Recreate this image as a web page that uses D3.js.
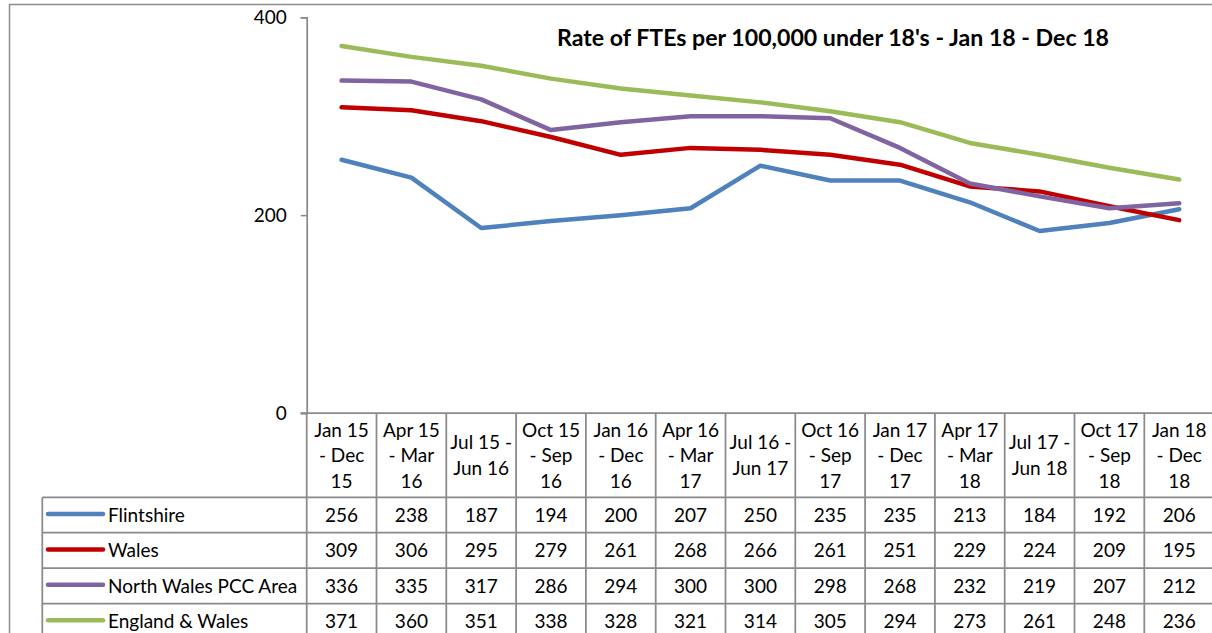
<!DOCTYPE html>
<html>
<head>
<meta charset="utf-8">
<script src="https://cdnjs.cloudflare.com/ajax/libs/d3/7.8.5/d3.min.js"></script>
<style>
  body { margin: 0; background: #fff; }
  svg { font-family: Lato, "Open Sans", sans-serif; }
</style>
</head>
<body>
<script>
// categories (line breaks as shown in the table header)
var categories = [
    "Jan 15\n- Dec\n15", "Apr 15\n- Mar\n16", "Jul 15 -\nJun 16", "Oct 15\n- Sep\n16",
    "Jan 16\n- Dec\n16", "Apr 16\n- Mar\n17", "Jul 16 -\nJun 17", "Oct 16\n- Sep\n17",
    "Jan 17\n- Dec\n17", "Apr 17\n- Mar\n18", "Jul 17 -\nJun 18", "Oct 17\n- Sep\n18",
    "Jan 18\n- Dec\n18"
];
var seriesNames = ["Flintshire", "Wales", "North Wales PCC Area", "England & Wales"];
var seriesColors = ["#4f81bd", "#c00000", "#8064a2", "#9bbb59"];
var flintshire = [256, 238, 187, 194, 200, 207, 250, 235, 235, 213, 184, 192, 206];
var wales = [309, 306, 295, 279, 261, 268, 266, 261, 251, 229, 224, 209, 195];
var northWales = [336, 335, 317, 286, 294, 300, 300, 298, 268, 232, 219, 207, 212];
var englandWales = [371, 360, 351, 338, 328, 321, 314, 305, 294, 273, 261, 248, 236];
var yTicks = [0, 200, 400];
var title = "Rate of FTEs per 100,000 under 18's - Jan 18 - Dec 18";

var seriesValues = [flintshire, wales, northWales, englandWales];

var width = 1212, height = 633;
var plotLeft = 306.7, colW = 69.8;
var plotTop = 17.3, plotBottom = 413;
var headerBottom = 497.3, rowH = 35.4, tableLeft = 42.3;
var gridColor = "#8a8a8a";
var fontSize = "19px";

var svg = d3.select("body").append("svg")
    .attr("width", width)
    .attr("height", height);

// outer chart border
svg.append("rect")
    .attr("x", 9.5).attr("y", 4.5)
    .attr("width", 1240).attr("height", 700)
    .attr("fill", "none")
    .attr("stroke", "#8c8c8c")
    .attr("stroke-width", 1.5);

var x = d3.scaleBand()
    .domain(d3.range(categories.length))
    .range([plotLeft, plotLeft + colW * categories.length]);

var y = d3.scaleLinear()
    .domain([0, 400])
    .range([plotBottom, plotTop]);

// y axis
var yAxis = svg.append("g")
    .attr("transform", "translate(" + plotLeft + ",0)")
    .call(d3.axisLeft(y).tickValues(yTicks).tickSize(6).tickPadding(14));
yAxis.select(".domain").attr("stroke", gridColor).attr("stroke-width", 1.75);
yAxis.selectAll(".tick line").attr("stroke", gridColor).attr("stroke-width", 1.5);
yAxis.selectAll(".tick text")
    .style("font-size", fontSize)
    .style("font-family", "Lato, sans-serif")
    .attr("fill", "#000");

// title
svg.append("text")
    .attr("x", 833)
    .attr("y", 46)
    .attr("text-anchor", "middle")
    .style("font-size", "22px")
    .style("font-weight", "bold")
    .attr("textLength", 552)
    .attr("lengthAdjust", "spacingAndGlyphs")
    .text(title);

// lines
var line = d3.line()
    .x(function (d, i) { return x(i) + x.bandwidth() / 2; })
    .y(function (d) { return y(d); });

seriesValues.forEach(function (vals, s) {
    svg.append("path")
        .datum(vals)
        .attr("d", line)
        .attr("fill", "none")
        .attr("stroke", seriesColors[s])
        .attr("stroke-width", 4.5)
        .attr("stroke-linejoin", "round")
        .attr("stroke-linecap", "round");
});

// data table
var table = svg.append("g");
var tableRight = x.range()[1];
var tableBottom = headerBottom + rowH * seriesNames.length;

// horizontal lines
table.append("line")
    .attr("x1", plotLeft - 6).attr("x2", tableRight)
    .attr("y1", plotBottom).attr("y2", plotBottom)
    .attr("stroke", gridColor).attr("stroke-width", 1.75);
d3.range(seriesNames.length + 1).forEach(function (r) {
    table.append("line")
        .attr("x1", tableLeft).attr("x2", tableRight)
        .attr("y1", headerBottom + rowH * r).attr("y2", headerBottom + rowH * r)
        .attr("stroke", gridColor).attr("stroke-width", 1.75);
});
// vertical lines
table.append("line")
    .attr("x1", tableLeft).attr("x2", tableLeft)
    .attr("y1", headerBottom).attr("y2", tableBottom)
    .attr("stroke", gridColor).attr("stroke-width", 1.75);
d3.range(categories.length + 1).forEach(function (c) {
    var cx = plotLeft + colW * c;
    table.append("line")
        .attr("x1", cx).attr("x2", cx)
        .attr("y1", plotBottom).attr("y2", tableBottom)
        .attr("stroke", gridColor).attr("stroke-width", 1.75);
});

// header labels
categories.forEach(function (cat, i) {
    var lines = cat.split("\n");
    var lh = 25.5;
    var mid = (plotBottom + headerBottom) / 2;
    var t = table.append("text")
        .attr("text-anchor", "middle")
        .style("font-size", fontSize);
    lines.forEach(function (ln, k) {
        t.append("tspan")
            .attr("x", x(i) + x.bandwidth() / 2)
            .attr("y", mid + (k - (lines.length - 1) / 2) * lh + 7)
            .text(ln);
    });
});

// rows
seriesNames.forEach(function (name, s) {
    var cy = headerBottom + rowH * s + rowH / 2;
    table.append("line")
        .attr("x1", 48).attr("x2", 103)
        .attr("y1", cy - 1).attr("y2", cy - 1)
        .attr("stroke", seriesColors[s])
        .attr("stroke-width", 4.5)
        .attr("stroke-linecap", "round");
    table.append("text")
        .attr("x", 108)
        .attr("y", cy + 7)
        .style("font-size", fontSize)
        .text(name);
    seriesValues[s].forEach(function (v, i) {
        table.append("text")
            .attr("x", x(i) + x.bandwidth() / 2)
            .attr("y", cy + 7)
            .attr("text-anchor", "middle")
            .style("font-size", fontSize)
            .text(v);
    });
});
</script>
</body>
</html>
